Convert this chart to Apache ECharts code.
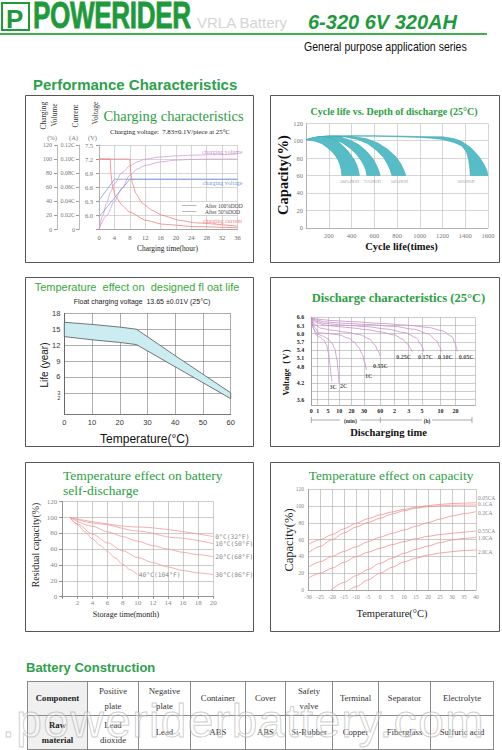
<!DOCTYPE html>
<html><head><meta charset="utf-8">
<script src="https://cdn.jsdelivr.net/npm/echarts@6.0.0/dist/echarts.min.js"></script>
<style>
html,body{margin:0;padding:0;background:#fff;}
#page{position:relative;width:502px;height:750px;overflow:hidden;background:#fff;}
#c{position:absolute;left:0;top:0;width:502px;height:750px;}
.t{position:absolute;white-space:nowrap;line-height:1;}
#tb{position:absolute;left:27px;top:681px;border-collapse:collapse;table-layout:fixed;width:467px;}
#tb td{border:1px solid #8a8a8a;font:8.7px 'Liberation Serif',serif;color:#333;text-align:center;vertical-align:middle;line-height:15px;padding:0;height:33px;}
#tb td.h{background:#f0f0f0;font-weight:bold;color:#222;}
</style></head><body>
<div id="page">
<div id="c"></div>
<div style="position:absolute;left:1px;top:2px;width:25px;height:25px;border:2px solid #1e9a3c;"></div>
<div class="t" style="left:6px;top:4px;font:900 26px 'Liberation Sans',sans-serif;color:#1e9a3c;">P</div>
<div class="t" style="left:33px;top:0.5px;line-height:30px;font:bold 36px/30px 'Liberation Sans',sans-serif;color:#1e9a3c;letter-spacing:-0.5px;transform:scaleX(0.725);transform-origin:0 0;-webkit-text-stroke:0.8px #1e9a3c;">POWERIDER</div>
<div class="t" style="left:197px;top:14px;font:15px 'Liberation Sans',sans-serif;color:#d4d4d4;">VRLA Battery</div>
<div class="t" style="left:308px;top:11.4px;font:italic bold 20px 'Liberation Sans',sans-serif;color:#1e9a3c;">6-320 6V 320AH</div>
<div style="position:absolute;left:0;top:33px;width:487px;height:2px;background:#40b04c;"></div>
<div class="t" style="left:304px;top:39px;font:13px 'Liberation Sans',sans-serif;color:#111;transform:scaleX(0.81);transform-origin:0 0;">General purpose application series</div>
<div class="t" style="left:33px;top:75.6px;font:bold 15px 'Liberation Sans',sans-serif;color:#2da04b;">Performance Characteristics</div>
<div class="t" style="left:26px;top:659.7px;font:bold 13px 'Liberation Sans',sans-serif;color:#2da04b;">Battery Construction</div>
<table id="tb">
<colgroup><col style="width:60px"><col style="width:51px"><col style="width:52px"><col style="width:55px"><col style="width:40px"><col style="width:47px"><col style="width:46px"><col style="width:52px"><col style="width:63px"></colgroup>
<tr><td class="h">Component</td><td>Positive<br>plate</td><td>Negative<br>plate</td><td>Container</td><td>Cover</td><td>Safety<br>valve</td><td>Terminal</td><td>Separator</td><td>Electrolyte</td></tr>
<tr><td class="h">Raw<br>material</td><td>Lead<br>dioxide</td><td>Lead</td><td>ABS</td><td>ABS</td><td>Si-Rubber</td><td>Copper</td><td>Fiberglass</td><td>Sulfuric acid</td></tr>
</table>
<div class="t" style="left:2px;top:694px;font:46px 'Liberation Sans',sans-serif;letter-spacing:1.5px;color:rgba(255,255,255,0.35);-webkit-text-stroke:1px rgba(165,165,165,0.55);">.poweriderbattery.com</div>
</div>
<script>
// ---------- DATA ----------
// Chart 1: charging characteristics (x: hours)
const chgVolumeA = [[0,0],[1,20],[2,38],[3,53],[4,65],[6,81],[8,90],[10,96],[12,100],[16,103],[20,104.5],[24,105.5],[30,106.3],[36,107]];
const chgVolumeB = [[0,0],[2,20],[4,40],[6,59],[8,77],[10,86],[12,91],[16,96],[20,98.5],[24,99.5],[30,100],[36,100]];
const chgVoltageA = [[0,6.32],[4,6.77],[36,6.77]];
const chgVoltageB = [[0,5.97],[8,6.77],[36,6.77]];
const chgCurrentA = [[0,0.1],[2.9,0.1],[3.1,0.079],[3.55,0.06],[4.4,0.046],[6.1,0.034],[7.9,0.025],[12.2,0.013],[16.5,0.0075],[25,0.004],[36,0.0025]];
const chgCurrentB = [[0,0.1],[8,0.1],[8.3,0.079],[8.7,0.065],[9.6,0.051],[11.3,0.037],[13.9,0.027],[16.5,0.02],[20.9,0.013],[25.2,0.0094],[36,0.0047]];
const chgLabelNames = ['charging volume','charging voltage','charging current'];
const chgLabelPos = [[32.1,110],[32.1,65.6],[32.1,12]];
const chgLegendNames = ['After 100%DOD','After 50%DOD'];

// Chart 2: cycle life vs DOD (x: cycles, y: capacity %)
const cyc100Outer = [[0,101],[47,103],[94,104.5],[141,105],[212,103.5],[282,99],[338,92.5],[385,85.5],[423,78.5],[447,72],[461,66],[470,60]];
const cyc100Inner = [[0,101],[79,99.5],[141,96.5],[188,92],[229,87.3],[261,82.3],[283,77.4],[298,72.5],[309,66.9],[314,60]];
const cyc75Outer = [[0,101],[65,103.3],[130,104.8],[196,105.5],[293,104.5],[391,100.5],[469,95],[535,87.5],[587,79.5],[619,72],[639,66],[652,60]];
const cyc75Inner = [[0,101],[53,102.8],[107,103.8],[160,104],[240,102],[320,97.5],[390,91],[443,84.5],[481,78],[507,72],[526,66],[534,60]];
const cyc50Outer = [[0,101],[88,103.8],[176,105.3],[263,105.8],[395,105],[527,102.5],[632,97.5],[720,90],[790,81.5],[834,73.5],[860,66.5],[878,60]];
const cyc50Inner = [[0,101],[75,103.4],[150,104.8],[226,105.2],[340,104.3],[453,101.5],[544,96.5],[619,89],[680,81],[717,73],[740,66.5],[755,60]];
const cyc30Outer = [[0,101],[100,103.8],[200,105.2],[400,105.8],[600,105.8],[800,105.4],[1000,104.8],[1200,104.5],[1300,102.5],[1370,99],[1450,92],[1520,82],[1565,73],[1590,66],[1600,60]];
const cyc30Inner = [[0,101],[100,103.3],[200,104.6],[400,105.2],[600,105.1],[800,104.6],[1000,103.8],[1100,102.8],[1200,101.5],[1300,98],[1370,94],[1410,87],[1430,78],[1440,68],[1444,60]];
const cycLabelNames = ['100%DOD','75%DOD','50%DOD','30%DOD'];
const cycLabelPos = [[381,53.6],[580,53.6],[821,53.6],[1406,53.6]];

// Chart 3: float life vs temperature
const lifeUpper = [[0,16.3],[10,15.9],[20,15.4],[26,15.0],[40,10.0],[50,6.5],[60,3.0]];
const lifeLower = [[0,13.6],[10,13.0],[20,12.5],[26,12.1],[40,7.9],[50,4.9],[60,1.9]];
const lifeYLabels = [1,2,3,6,9,12,15,18];
const lifeYGrid = [3,6,9,12,15,18];

// Chart 4: discharge characteristics (x: position on the time axis)
const dchTickPos = [0,0.46,1.21,2.03,2.91,3.83,5.01,6.03,7.07,8.04,9.37,10.46];
const dchTickLbl = ['0','1','5','10','20','30','60','2','3','5','10','20'];
const dchYGrid = [3.6,3.9,4.2,4.5,4.8,5.1,5.4,5.7,6.0,6.3,6.6];
const dchYLabels = [3.6,4.2,4.8,5.1,5.4,5.7,6.0,6.3,6.6];
const dch3C = [[0,6.58],[0.15,6.2],[0.35,5.96],[0.6,5.88],[0.9,5.78],[1.1,5.6],[1.25,5.3],[1.35,4.9],[1.43,4.5],[1.5,4.26]];
const dch2C = [[0,6.58],[0.2,6.15],[0.45,5.99],[0.8,5.92],[1.2,5.82],[1.5,5.66],[1.7,5.45],[1.85,5.1],[1.95,4.65],[2.0,4.2]];
const dch1C = [[0,6.58],[0.3,6.2],[0.55,6.03],[1.2,6.01],[2.0,5.96],[2.7,5.84],[3.1,5.7],[3.44,5.5],[3.7,5.25],[3.88,4.95],[4.0,4.66]];
const dch055C = [[0,6.58],[0.3,6.32],[0.7,6.2],[1.5,6.13],[2.5,6.06],[3.5,5.97],[4.2,5.82],[4.6,5.6],[4.85,5.37],[5.0,5.17]];
const dch025C = [[0,6.58],[0.4,6.4],[1.0,6.31],[2.0,6.26],[3.0,6.21],[4.0,6.15],[5.0,6.07],[6.0,5.96],[6.6,5.81],[7.0,5.62],[7.2,5.46],[7.3,5.35]];
const dch017C = [[0,6.58],[0.4,6.45],[1.0,6.37],[2.5,6.31],[4.0,6.26],[5.5,6.17],[6.8,6.04],[7.6,5.86],[7.95,5.62],[8.1,5.46],[8.16,5.35]];
const dch010C = [[0,6.58],[0.4,6.5],[1.0,6.43],[2.5,6.38],[4.0,6.34],[6.0,6.27],[7.5,6.16],[8.5,5.99],[9.1,5.74],[9.35,5.5],[9.42,5.35]];
const dch005C = [[0,6.58],[0.5,6.53],[1.5,6.48],[3.0,6.44],[5.0,6.38],[7.0,6.31],[8.5,6.23],[9.5,6.11],[10.2,5.9],[10.45,5.64],[10.55,5.46],[10.58,5.35]];
const dchLabelNames = ['0.25C','0.17C','0.10C','0.05C','0.55C','1C','3C','2C'];
const dchLabelPos = [[6.71,5.15],[8.28,5.15],[9.73,5.15],[11.23,5.15],[5.01,4.84],[4.17,4.44],[1.58,4.05],[2.35,4.08]];

// Chart 5: self-discharge (x: months, y: residual %)
const sd0 = [[1,100],[10,88],[20,76]];
const sd10 = [[1,100],[5,92],[10,83],[15,74.5],[20,67]];
const sd20 = [[1,100],[4,89],[6,82],[8,76],[10,70],[12,64.5],[14,60],[16,56],[18,53],[20,50.5]];
const sd30 = [[1,100],[2,92],[4,79],[6,68],[8,58],[10,49.5],[12,43],[14,37.5],[16,33],[18,30],[20,28]];
const sd40 = [[1,100],[2,91],[3,82],[4,73],[5,65],[6,57],[7,49],[8,41],[9,34],[10,27.5]];
const sdNames = ['0°C(32°F)','10°C(50°F)','20°C(68°F)','30°C(86°F)','40°C(104°F)'];

// Chart 6: temperature effect on capacity
const tc005 = [[-30,54],[-25,60],[-20,66],[-15,73],[-10,79.5],[-5,85],[0,89.5],[5,93],[10,96],[15,98.5],[20,100.5],[25,102],[30,103],[35,103.5],[40,104]];
const tc01 = [[-30,44],[-25,52],[-20,60],[-15,68],[-10,75],[-5,80.5],[0,85.5],[5,90.5],[10,94.5],[15,97.5],[20,99.3],[25,100.3],[30,101],[35,101.2],[40,101.3]];
const tc02 = [[-30,27],[-25,33.5],[-20,40],[-15,46],[-10,51.5],[-5,57.5],[0,63],[5,67.5],[10,71.5],[15,76],[20,80.3],[25,84.5],[30,88.2],[35,91],[40,93.4]];
const tc055 = [[-30,14],[-25,20],[-20,26],[-15,33],[-10,39.7],[-5,45],[0,49.7],[5,54],[10,57.6],[15,61],[20,64],[25,66],[30,67.5],[35,69],[40,70.3]];
const tc10 = [[-20.5,0],[-15,9],[-10,17],[-5,24.5],[0,31.8],[5,38],[10,43.7],[15,48.5],[20,52.4],[25,56.5],[30,59.6],[35,61.5],[40,62.8]];
const tc20 = [[-12.8,0],[-10,4],[-5,12],[0,20],[5,27],[10,33.5],[15,38],[20,41.7],[25,44],[30,45.7],[35,47],[40,47.7]];
const tcNames = ['0.05CA','0.1CA','0.2CA','0.55CA','1.0CA','2.0CA'];

// ---------- STYLE HELPERS ----------
const SERIF = 'Liberation Serif';
const SANS = 'Liberation Sans';
const GREEN = '#2da043';

function ln(xi, yi, name, data, color, width, extra) {
  return Object.assign({type:'line', name:name, xAxisIndex:xi, yAxisIndex:yi, data:data, symbol:'none', showSymbol:false,
    smooth:0.3, smoothMonotone:'x', silent:true, z:3, lineStyle:{color:color, width:width}}, extra || {});
}
function band(xi, yi, upper, lower, fill, stroke, lw) {
  const poly = upper.concat(lower.slice().reverse());
  return {type:'custom', xAxisIndex:xi, yAxisIndex:yi, silent:true, z:2, data:[upper[0]],
    renderItem: function(params, api) {
      return {type:'polygon', shape:{points: poly.map(function(p){ return api.coord(p); })}, style:{fill:fill, stroke:stroke, lineWidth:lw}};
    }};
}
function labels(xi, yi, names, pos, font, colors) {
  return {type:'scatter', xAxisIndex:xi, yAxisIndex:yi, symbolSize:0, silent:true, z:6,
    data: names.map(function(n,i){ return {name:n, value:pos[i], label:{color: Array.isArray(colors)?colors[i]:colors}}; }),
    label:{show:true, position:'inside', formatter:'{b}', fontFamily:font.family, fontSize:font.size, fontWeight:font.weight||'normal'}};
}
function txt(x, y, text, font, fill, align, rot) {
  align = align || 'center';
  return {type:'text', x:x, y:y, rotation:rot||0, silent:true, z:50,
    style:{text:text, font:font, fill:fill, textAlign:align, align:align, textVerticalAlign:'middle', verticalAlign:'middle'}};
}
function rect(x, y, w, h, stroke, fill, z) {
  return {type:'rect', silent:true, z:z||40, shape:{x:x, y:y, width:w, height:h}, style:{stroke:stroke, fill:fill, lineWidth:1}};
}
function seg(x1, y1, x2, y2, stroke, w) {
  return {type:'line', silent:true, z:50, shape:{x1:x1, y1:y1, x2:x2, y2:y2}, style:{stroke:stroke, lineWidth:w}};
}
function xa(grid, min, max, interval, lbl, split, line, extra) {
  const a = {gridIndex:grid, type:'value', min:min, max:max,
    axisLine:{show:true, onZero:false, lineStyle:{color:line, width:0.8}}, axisTick:{show:false},
    axisLabel:lbl, splitLine:{show:true, lineStyle:{color:split, width:0.6}}};
  if (interval != null) a.interval = interval;
  return Object.assign(a, extra || {});
}

const chart = echarts.init(document.getElementById('c'), null, {renderer:'svg', width:502, height:750});

const nearestDchLabel = function(v) {
  let b = 0;
  for (let i = 1; i < dchTickPos.length; i++) if (Math.abs(v - dchTickPos[i]) < Math.abs(v - dchTickPos[b])) b = i;
  return dchTickLbl[b];
};

const option = {
  animation:false,
  textStyle:{fontFamily:SERIF},
  grid:[
    {left:99, top:145, width:138.5, height:84.5},
    {left:306, top:123.3, width:182, height:104.5},
    {left:64.3, top:313.3, width:166.4, height:100.7},
    {left:311.3, top:317.3, width:164, height:87.7},
    {left:62.3, top:501.7, width:151, height:95},
    {left:308, top:489.3, width:168, height:100.7}
  ],
  xAxis:[
    xa(0, 0, 36, 4, {fontFamily:SERIF, fontSize:6.5, color:'#666', margin:4}, '#bbb', '#999'),
    xa(1, 0, 1600, 200, {fontFamily:SERIF, fontSize:6.5, color:'#777', margin:4, formatter:function(v){return v===0?'':String(v);}}, '#bbb', '#aaa'),
    xa(2, 0, 60, 10, {fontFamily:SANS, fontSize:7.5, color:'#333', margin:4}, '#777', '#555'),
    xa(3, 0, 11.9, null, {fontFamily:SERIF, fontWeight:'bold', fontSize:6, color:'#222', margin:3, customValues:dchTickPos, formatter:nearestDchLabel}, '#aaa', '#999',
       {axisTick:{show:false, customValues:dchTickPos.concat([11.9])}}),
    xa(4, 0, 20, 2, {fontFamily:SERIF, fontSize:7, color:'#888', margin:3, formatter:function(v){return v===0?'':String(v);}}, '#aaa', '#888',
       {axisTick:{show:true, length:2, lineStyle:{color:'#888'}}}),
    xa(5, -30, 40, 5, {fontFamily:SERIF, fontSize:5.5, color:'#888', margin:4}, '#aaa', '#999')
  ],
  yAxis:[
    {gridIndex:0, type:'value', position:'left', offset:42, min:0, max:120, interval:20,
     axisLine:{show:true, onZero:false, lineStyle:{color:'#aaa', width:0.8}}, axisTick:{show:true, length:3, lineStyle:{color:'#999'}},
     axisLabel:{fontFamily:SERIF, fontSize:6, color:'#777', margin:5}, splitLine:{show:true, lineStyle:{color:'#bbb', width:0.6}}},
    {gridIndex:0, type:'value', position:'left', offset:20, min:0, max:0.12, interval:0.02,
     axisLine:{show:true, onZero:false, lineStyle:{color:'#aaa', width:0.8}}, axisTick:{show:true, length:3, lineStyle:{color:'#999'}},
     axisLabel:{fontFamily:SERIF, fontSize:6, color:'#777', margin:4, formatter:function(v){return v<0.001?'0':v.toFixed(2)+'C';}}, splitLine:{show:false}},
    {gridIndex:0, type:'value', position:'left', offset:0, min:5.7, max:7.5, interval:0.3,
     axisLine:{show:true, onZero:false, lineStyle:{color:'#aaa', width:0.8}}, axisTick:{show:true, length:3, lineStyle:{color:'#999'}},
     axisLabel:{fontFamily:SERIF, fontSize:6.5, color:'#777', margin:6, formatter:function(v){return v<5.8?'':v.toFixed(1);}}, splitLine:{show:false}},
    {gridIndex:1, type:'value', min:0, max:120, interval:20,
     axisLine:{show:true, onZero:false, lineStyle:{color:'#aaa', width:0.8}}, axisTick:{show:false},
     axisLabel:{fontFamily:SERIF, fontSize:6.5, color:'#777', margin:3}, splitLine:{show:true, lineStyle:{color:'#bbb', width:0.6}}},
    {gridIndex:2, type:'value', min:-1, max:18,
     axisLine:{show:true, onZero:false, lineStyle:{color:'#555', width:0.8}}, axisTick:{show:false, customValues:lifeYGrid},
     axisLabel:{fontFamily:SANS, fontSize:7.5, color:'#333', margin:4, customValues:lifeYLabels,
       formatter:function(v){ return v <= 3 ? '{s|' + v + '}' : String(v); },
       rich:{s:{fontFamily:SANS, fontSize:5.6, color:'#333'}}},
     splitLine:{show:true, lineStyle:{color:'#777', width:0.6}}},
    {gridIndex:3, type:'value', min:3.4, max:6.6,
     axisLine:{show:true, onZero:false, lineStyle:{color:'#999', width:0.8}}, axisTick:{show:false, customValues:dchYGrid},
     axisLabel:{fontFamily:SERIF, fontWeight:'bold', fontSize:6, color:'#222', margin:7, customValues:dchYLabels, formatter:function(v){return v.toFixed(1);}},
     splitLine:{show:true, lineStyle:{color:'#aaa', width:0.6}}},
    {gridIndex:4, type:'value', min:0, max:120, interval:20,
     axisLine:{show:true, onZero:false, lineStyle:{color:'#888', width:0.8}}, axisTick:{show:true, length:3, lineStyle:{color:'#888'}},
     axisLabel:{fontFamily:SERIF, fontSize:7, color:'#888', margin:5}, splitLine:{show:true, lineStyle:{color:'#aaa', width:0.6}}},
    {gridIndex:5, type:'value', min:0, max:120, interval:20,
     axisLine:{show:true, onZero:false, lineStyle:{color:'#999', width:0.8}}, axisTick:{show:false},
     axisLabel:{fontFamily:SERIF, fontSize:5.5, color:'#888', margin:4}, splitLine:{show:true, lineStyle:{color:'#aaa', width:0.6}}}
  ],
  series:[
    // chart 1
    ln(0,0,'volA',chgVolumeA,'#d49ad4',0.8),
    ln(0,0,'volB',chgVolumeB,'#d49ad4',0.8),
    ln(0,2,'voltA',chgVoltageA,'#7f9fdf',0.8,{smooth:false}),
    ln(0,2,'voltB',chgVoltageB,'#7f9fdf',0.8,{smooth:false}),
    ln(0,1,'curA',chgCurrentA,'#f27c7c',0.8,{smooth:0.2}),
    ln(0,1,'curB',chgCurrentB,'#f27c7c',0.8,{smooth:0.2}),
    labels(0,0,chgLabelNames,chgLabelPos,{family:SERIF,size:6},['#c46cc4','#5577cc','#ee5555']),
    // chart 2
    band(1,3,cyc30Outer,cyc30Inner,'#56bcc6','#3aa3ae',0.5),
    band(1,3,cyc50Outer,cyc50Inner,'#56bcc6','#3aa3ae',0.5),
    band(1,3,cyc75Outer,cyc75Inner,'#56bcc6','#3aa3ae',0.5),
    band(1,3,cyc100Outer,cyc100Inner,'#56bcc6','#3aa3ae',0.5),
    labels(1,3,cycLabelNames,cycLabelPos,{family:SERIF,size:4.3},'#777'),
    // chart 3
    band(2,4,lifeUpper,lifeLower,'#cbedf2','#555',0.8),
    // chart 4
    ln(3,5,'3C',dch3C,'#c88fc8',0.8),
    ln(3,5,'2C',dch2C,'#c88fc8',0.8),
    ln(3,5,'1C',dch1C,'#c88fc8',0.8),
    ln(3,5,'0.55C',dch055C,'#c88fc8',0.8),
    ln(3,5,'0.25C',dch025C,'#c88fc8',0.8),
    ln(3,5,'0.17C',dch017C,'#c88fc8',0.8),
    ln(3,5,'0.10C',dch010C,'#c88fc8',0.8),
    ln(3,5,'0.05C',dch005C,'#c88fc8',0.8),
    labels(3,5,dchLabelNames,dchLabelPos,{family:SERIF,size:6,weight:'bold'},'#222'),
    // chart 5
    ln(4,6,sdNames[0],sd0,'#f29a9a',0.8,{endLabel:{show:true,formatter:'{a}',distance:2,fontFamily:'DejaVu Sans Mono',fontSize:6.3,color:'#888'}}),
    ln(4,6,sdNames[1],sd10,'#f29a9a',0.8,{endLabel:{show:true,formatter:'{a}',distance:2,fontFamily:'DejaVu Sans Mono',fontSize:6.3,color:'#888'}}),
    ln(4,6,sdNames[2],sd20,'#f29a9a',0.8,{endLabel:{show:true,formatter:'{a}',distance:2,fontFamily:'DejaVu Sans Mono',fontSize:6.3,color:'#888'}}),
    ln(4,6,sdNames[3],sd30,'#f29a9a',0.8,{endLabel:{show:true,formatter:'{a}',distance:2,fontFamily:'DejaVu Sans Mono',fontSize:6.3,color:'#888'}}),
    ln(4,6,sdNames[4],sd40,'#f29a9a',0.8,{endLabel:{show:true,formatter:'{a}',distance:1,fontFamily:'DejaVu Sans Mono',fontSize:6.3,color:'#888'}}),
    // chart 6
    ln(5,7,tcNames[0],tc005,'#f29090',0.8,{endLabel:{show:true,formatter:'{a}',distance:2,offset:[0,-5],fontSize:5.5,color:'#888'}}),
    ln(5,7,tcNames[1],tc01,'#f29090',0.8,{endLabel:{show:true,formatter:'{a}',distance:2,offset:[0,-0.5],fontSize:5.5,color:'#888'}}),
    ln(5,7,tcNames[2],tc02,'#f29090',0.8,{endLabel:{show:true,formatter:'{a}',distance:2,offset:[0,1],fontSize:5.5,color:'#888'}}),
    ln(5,7,tcNames[3],tc055,'#f29090',0.8,{endLabel:{show:true,formatter:'{a}',distance:2,offset:[0,-0.5],fontSize:5.5,color:'#888'}}),
    ln(5,7,tcNames[4],tc10,'#f29090',0.8,{endLabel:{show:true,formatter:'{a}',distance:2,offset:[0,0.5],fontSize:5.5,color:'#888'}}),
    ln(5,7,tcNames[5],tc20,'#f29090',0.8,{endLabel:{show:true,formatter:'{a}',distance:2,offset:[0,2],fontSize:5.5,color:'#888'}})
  ],
  graphic:{elements:[
    // panel boxes
    rect(25.5,95.5,228,167,'#555','none'),
    rect(270.5,95.5,229,167,'#555','none'),
    rect(25.5,277.5,228,169,'#555','none'),
    rect(270.5,277.5,229,169,'#555','none'),
    rect(25.5,462.5,228,169,'#555','none'),
    rect(270.5,462.5,229,169,'#555','none'),
    // chart 1 texts
    txt(173.5,116,'Charging characteristics','14.5px '+SERIF,GREEN),
    txt(170,131,'Charging voltage:  7.83±0.1V/piece at 25°C','6.8px '+SERIF,'#222'),
    txt(43.3,115.7,'Charging','7.5px '+SERIF,'#333','center',Math.PI/2),
    txt(54.3,115,'Volume','7.5px '+SERIF,'#333','center',Math.PI/2),
    txt(75,116,'Current','7.5px '+SERIF,'#333','center',Math.PI/2),
    txt(95,113,'Voltage','7.5px '+SERIF,'#333','center',Math.PI/2),
    txt(52,137.3,'(%)','6.5px '+SERIF,'#777'),
    txt(73.5,137.3,'(A)','6.5px '+SERIF,'#777'),
    txt(92.5,137.3,'(V)','6.5px '+SERIF,'#777'),
    txt(167.5,248,'Charging time(hour)','7.4px '+SERIF,'#222'),
    rect(179,202,58,13,'none','#fff',45),
    seg(182,205.5,196.5,205.5,'#999',0.7),
    seg(182,211.5,196.5,211.5,'#999',0.7),
    txt(205,205.7,chgLegendNames[0],'5.5px '+SERIF,'#444','left'),
    txt(205,211.9,chgLegendNames[1],'5.5px '+SERIF,'#444','left'),
    // chart 2 texts
    txt(394,111,'Cycle life vs. Depth of discharge (25°C)','bold 10px '+SERIF,GREEN),
    txt(283,175,'Capacity(%)','bold 14.5px '+SERIF,'#111','center',Math.PI/2),
    txt(401.5,246,'Cycle life(times)','bold 10.5px '+SERIF,'#111'),
    // chart 3 texts
    txt(137,287,'Temperature  effect on  designed fl oat life','11px '+SANS,'#3aa83a'),
    txt(142,301,'Float charging voltage  13.65 ±0.01V (25°C)','7px '+SANS,'#222'),
    txt(44,365,'Life (year)','10px '+SANS,'#111','center',Math.PI/2),
    txt(144.5,439,'Temperature(°C)','12px '+SANS,'#111'),
    // chart 4 texts
    txt(398.5,298,'Discharge characteristics (25°C)','bold 12.6px '+SERIF,GREEN),
    txt(286,370,'Voltage（V）','bold 8.5px '+SERIF,'#111','center',Math.PI/2),
    txt(388.5,432,'Discharging time','bold 10.5px '+SERIF,'#111'),
    seg(311.3,420,340,420,'#888',0.7),
    seg(360.5,420,422,420,'#888',0.7),
    seg(432,420,472,420,'#888',0.7),
    seg(311.3,417,311.3,423,'#888',0.7),
    seg(380.3,417,380.3,423,'#888',0.7),
    seg(472,417,472,423,'#888',0.7),
    txt(350.3,420.5,'(min)','bold 5.5px '+SERIF,'#333'),
    txt(427,420.5,'(h)','bold 5.5px '+SERIF,'#333'),
    // chart 5 texts
    txt(63,475,'Temperature effect on battery','13.5px '+SERIF,GREEN,'left'),
    txt(63,490,'self-discharge','13.5px '+SERIF,GREEN,'left'),
    txt(35,545,'Residual capacity(%)','9.9px '+SERIF,'#222','center',Math.PI/2),
    txt(126,614,'Storage time(month)','8px '+SERIF,'#222'),
    // chart 6 texts
    txt(391,475,'Temperature effect on capacity','13.3px '+SERIF,GREEN),
    txt(288.7,540,'Capacity(%)','12.5px '+SERIF,'#222','center',Math.PI/2),
    txt(392,613,'Temperature(°C)','10.5px '+SERIF,'#222')
  ]}
};
chart.setOption(option);
</script>
</body></html>
